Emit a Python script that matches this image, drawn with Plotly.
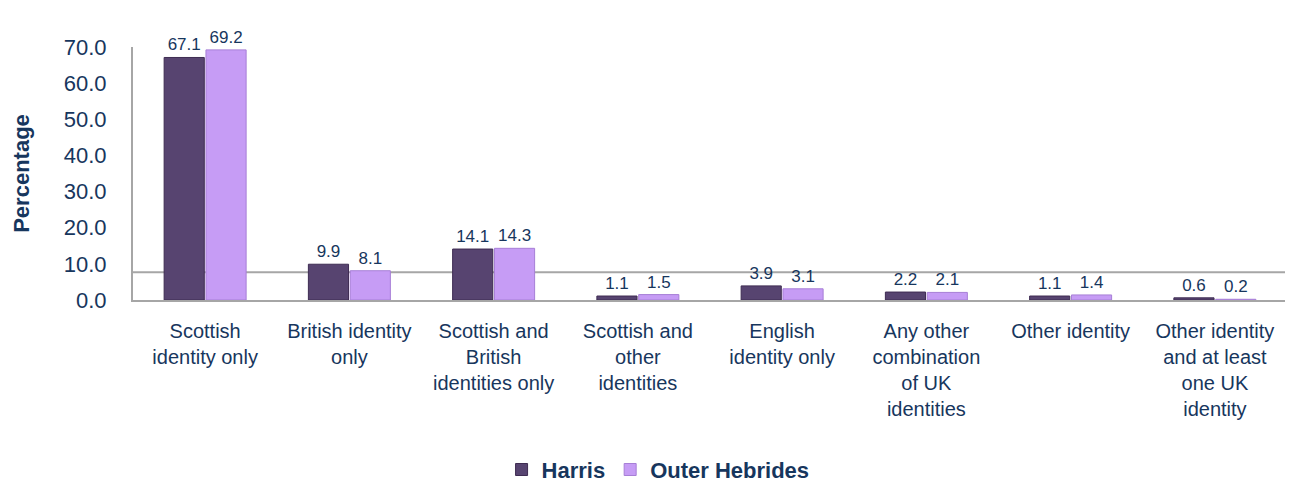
import plotly.graph_objects as go

# категории и значения
categories = [
    'Scottish<br>identity only',
    'British identity<br>only',
    'Scottish and<br>British<br>identities only',
    'Scottish and<br>other<br>identities',
    'English<br>identity only',
    'Any other<br>combination<br>of UK<br>identities',
    'Other identity',
    'Other identity<br>and at least<br>one UK<br>identity',
]
harris = [67.1, 9.9, 14.1, 1.1, 3.9, 2.2, 1.1, 0.6]
outer_hebrides = [69.2, 8.1, 14.3, 1.5, 3.1, 2.1, 1.4, 0.2]

navy = '#17365D'

fig = go.Figure()

fig.add_trace(go.Bar(
    x=categories, y=harris, name='Harris',
    marker=dict(color='#574470', line=dict(color='#3E2C52', width=1)),
    text=[f'{v:.1f}' for v in harris], textposition='outside',
    textfont=dict(size=17, color=navy, family='Arial'),
    cliponaxis=False,
))
fig.add_trace(go.Bar(
    x=categories, y=outer_hebrides, name='Outer Hebrides',
    marker=dict(color='#C69CF5', line=dict(color='#A77FD6', width=1)),
    text=[f'{v:.1f}' for v in outer_hebrides], textposition='outside',
    textfont=dict(size=17, color=navy, family='Arial'),
    cliponaxis=False,
))

# линия "пола" 3D-диаграммы
fig.add_shape(type='line', xref='paper', yref='y', x0=0, x1=1, y0=7.7, y1=7.7,
              line=dict(color='#A6A6A6', width=2), layer='below')

# страница добавляет отступ 8px у body, поэтому поля уменьшены
fig.update_layout(
    width=1293, height=486,
    margin=dict(l=125, r=14, t=39, b=194, autoexpand=False),
    plot_bgcolor='white', paper_bgcolor='white',
    font=dict(family='Arial', color=navy),
    barmode='group', bargap=0.42, bargroupgap=0.04,
    showlegend=True,
    legend=dict(orientation='h', x=0.455, xanchor='center',
                yref='container', y=0.05, yanchor='middle',
                font=dict(size=22, color=navy, family='Arial', weight='bold'),
                itemwidth=30, traceorder='normal'),
)

fig.update_yaxes(
    range=[0, 70], dtick=10, tickformat='.1f',
    showgrid=False, zeroline=False,
    showline=True, linecolor='#A6A6A6', linewidth=2,
    tickfont=dict(size=22, color=navy), ticklabelstandoff=20,
    title=dict(text='<b>Percentage</b>', font=dict(size=22, color=navy), standoff=28),
    automargin=False,
)
fig.update_xaxes(
    showgrid=False, showline=True, linecolor='#A6A6A6', linewidth=2,
    tickfont=dict(size=20, color=navy), ticklabelstandoff=12,
    tickangle=0, automargin=False,
)

fig.write_html('out.html')
